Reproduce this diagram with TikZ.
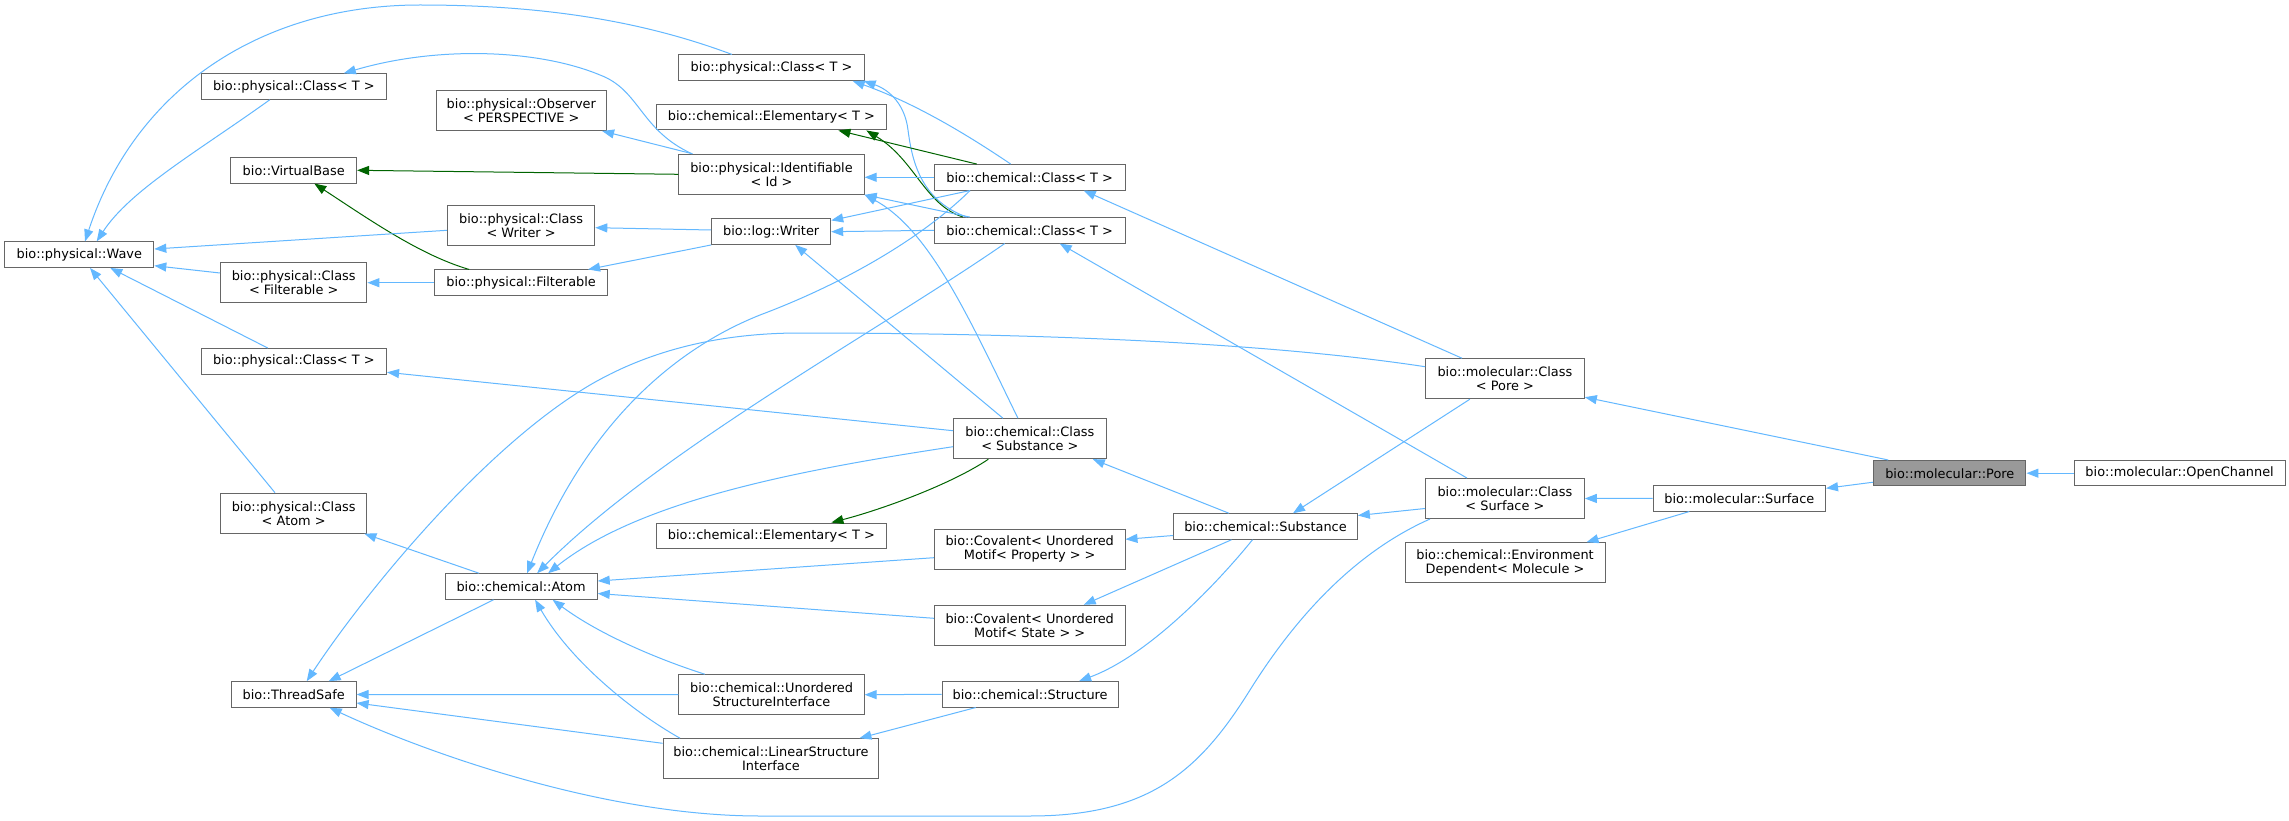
\documentclass[tikz,border=0pt]{standalone}
\usepackage{fontspec}
\setmainfont{DejaVu Sans}
\usetikzlibrary{arrows.meta,calc}
\definecolor{edgeblue}{HTML}{63B8FF}
\definecolor{edgegreen}{HTML}{006400}
\definecolor{nodeborder}{HTML}{666666}
\definecolor{hlfill}{HTML}{999999}
\begin{document}
\begin{tikzpicture}[x=1pt,y=-1pt,
  cls/.style={draw=nodeborder, fill=white, line width=1pt, inner sep=0pt, align=center,
    font=\fontsize{12.9}{14}\selectfont, minimum height=25.5pt},
  two/.style={minimum height=40pt},
  e/.style={draw=edgeblue, line width=1pt, -{Triangle[length=12pt,width=9pt]}},
  g/.style={draw=edgegreen, line width=1pt, -{Triangle[length=12pt,width=9pt]}},
]
\fill[white] (0,0) rectangle (2289,821);
\useasboundingbox (0,0) rectangle (2289,821);

% column 1
\node[cls, minimum width=149pt] (wave) at (79.3,254.7) {bio::physical::Wave};
% column 2
\node[cls, minimum width=185.5pt] (pcTa) at (293.8,86.5) {bio::physical::Class< T >};
\node[cls, minimum width=125.8pt] (vbase) at (293.7,170.3) {bio::VirtualBase};
\node[cls, two, minimum width=146.4pt] (clsFilt) at (293.7,282.7) {bio::physical::Class\\< Filterable >};
\node[cls, minimum width=185.5pt] (pcTc) at (293.8,361.3) {bio::physical::Class< T >};
\node[cls, two, minimum width=146.4pt] (clsAtom) at (293.7,513.2) {bio::physical::Class\\< Atom >};
\node[cls, minimum width=124.8pt] (threadsafe) at (293.7,694.5) {bio::ThreadSafe};
% column 3
\node[cls, two, minimum width=170.6pt] (observer) at (521.3,110.5) {bio::physical::Observer\\< PERSPECTIVE >};
\node[cls, two, minimum width=147.4pt] (clsWriter) at (521.1,225.3) {bio::physical::Class\\< Writer >};
\node[cls, minimum width=172.9pt] (filterable) at (521.1,282.7) {bio::physical::Filterable};
\node[cls, minimum width=152.2pt] (atom) at (521.1,586.5) {bio::chemical::Atom};
% column 4
\node[cls, minimum width=185.3pt] (pcTb) at (771.5,67.7) {bio::physical::Class< T >};
\node[cls, minimum width=230.5pt] (elemA) at (771.4,117.2) {bio::chemical::Elementary< T >};
\node[cls, two, minimum width=185.3pt] (ident) at (771.5,174.3) {bio::physical::Identifiable\\< Id >};
\node[cls, minimum width=119pt] (writer) at (771.2,231.7) {bio::log::Writer};
\node[cls, minimum width=230.5pt] (elemB) at (771.4,535.8) {bio::chemical::Elementary< T >};
\node[cls, two, minimum width=185.3pt] (usi) at (771.5,694.7) {bio::chemical::Unordered\\StructureInterface};
\node[cls, two, minimum width=215.9pt] (lsi) at (771,758.7) {bio::chemical::LinearStructure\\Interface};
% column 5
\node[cls, minimum width=190.6pt] (ccT1) at (1029.7,177.3) {bio::chemical::Class< T >};
\node[cls, minimum width=190.6pt] (ccT2) at (1029.7,230.3) {bio::chemical::Class< T >};
\node[cls, two, minimum width=152.8pt] (ccSub) at (1029.9,438.7) {bio::chemical::Class\\< Substance >};
\node[cls, two, minimum width=190.6pt] (covProp) at (1029.7,549.3) {bio::Covalent< Unordered\\Motif< Property > >};
\node[cls, two, minimum width=190.6pt] (covState) at (1029.7,625.3) {bio::Covalent< Unordered\\Motif< State > >};
\node[cls, minimum width=175.8pt] (structure) at (1030.1,694.3) {bio::chemical::Structure};
% column 6
\node[cls, minimum width=183.7pt] (substance) at (1265.5,526.5) {bio::chemical::Substance};
% column 7
\node[cls, two, minimum width=158.8pt] (molPore) at (1504.9,378.7) {bio::molecular::Class\\< Pore >};
\node[cls, two, minimum width=158.8pt] (molSurf) at (1504.9,498.5) {bio::molecular::Class\\< Surface >};
\node[cls, two, minimum width=200pt] (env) at (1505,562.7) {bio::chemical::Environment\\Dependent< Molecule >};
% columns 8-10
\node[cls, minimum width=172.4pt] (surface) at (1739.3,498.3) {bio::molecular::Surface};
\node[cls, fill=hlfill, minimum width=152.3pt] (pore) at (1949.8,473.2) {bio::molecular::Pore};
\node[cls, minimum width=211.2pt] (opench) at (2179.6,473.2) {bio::molecular::OpenChannel};

% edges
\draw[e] ($(pcTa.south)+(-24,0)$) .. controls (200,150) and (130,190) .. ($(wave.north)+(17.4,0)$);
\draw[e] ($(pcTb.north)+(-39.5,0)$) .. controls (640,20) and (540,5) .. (420,5) .. controls (260,5) and (135,90) .. ($(wave.north)+(5.7,0)$);
\draw[e] ($(ident.north)+(-79.5,0)$) .. controls (640,130) and (640,90) .. (600,75) .. controls (540,50) and (440,45) .. ($(pcTa.north)+(50,0)$);
\draw[e] ($(ident.north)+(-79,0)$) -- ($(observer.south east)+(-5,0)$);
\draw[g] (ident.west) -- (vbase.east);
\draw[g] ($(filterable.north)+(-52,0)$) .. controls (420,255) and (370,220) .. ($(vbase.south)+(20.6,0)$);
\draw[e] ($(clsWriter.west)+(0,5)$) -- ($(wave.east)+(0,-5.7)$);
\draw[e] ($(clsFilt.west)+(0,-9.7)$) -- ($(wave.east)+(0,11)$);
\draw[e] ($(pcTc.north)+(-26,0)$) -- ($(wave.south)+(31,0)$);
\draw[e] ($(clsAtom.north)+(-18.7,0)$) -- ($(wave.south)+(10.7,0)$);
\draw[e] ($(writer.west)+(0,-1.7)$) -- ($(clsWriter.east)+(0,2.4)$);
\draw[e] (writer.south west) -- ($(filterable.north east)+(-20,0)$);
\draw[e] (filterable.west) -- (clsFilt.east);
\draw[e] ($(ccSub.west)+(0,-8)$) -- ($(pcTc.east)+(0,11)$);
\draw[e] ($(ccT1.north)+(-19,0)$) .. controls (975,140) and (920,105) .. ($(pcTb.south east)+(-12,0)$);
\draw[e] ($(ccT2.north)+(-63,0)$) .. controls (920,200) and (912,160) .. (908,130) .. controls (905,105) and (890,90) .. ($(pcTb.south east)+(-1,0)$);
\draw[g] ($(ccT1.north)+(-53,0)$) -- ($(elemA.south)+(67,0)$);
\draw[g] ($(ccT2.north)+(-66.7,0)$) .. controls (925,205) and (915,160) .. ($(elemA.south)+(95,0)$);
\draw[e] (ccT1.west) -- ($(ident.east)+(0,3)$);
\draw[e] ($(ccT2.north)+(-60,0)$) -- (ident.south east);
\draw[e] ($(ccSub.north)+(-12,0)$) .. controls (970,320) and (930,230) .. (ident.south east);
\draw[e] ($(ccT1.south)+(-59.7,0)$) -- ($(writer.north east)+(0,2)$);
\draw[e] (ccT2.west) -- (writer.east);
\draw[e] ($(ccT1.south)+(-59.7,0)$) .. controls (920,240) and (840,285) .. (760,315) .. controls (660,355) and (580,440) .. ($(atom.north)+(6,0)$);
\draw[e] ($(ccT2.south)+(-25,0)$) .. controls (880,330) and (660,450) .. ($(atom.north)+(16,0)$);
\draw[e] ($(ccSub.west)+(0,8)$) .. controls (800,470) and (640,500) .. ($(atom.north)+(27,0)$);
\draw[e] ($(ccSub.north)+(-27,0)$) -- ($(writer.south)+(24,0)$);
\draw[g] ($(ccSub.south)+(-41.5,0)$) .. controls (950,485) and (880,510) .. ($(elemB.north)+(60,0)$);
\draw[e] ($(substance.north)+(-36.5,0)$) -- ($(ccSub.south east)+(-14,0)$);
\draw[e] ($(substance.west)+(0,9)$) -- ($(covProp.east)+(0,-10)$);
\draw[e] ($(substance.south)+(-34,0)$) -- ($(covState.north)+(54,0)$);
\draw[e] ($(substance.south)+(-13,0)$) .. controls (1220,580) and (1150,655) .. ($(structure.north)+(49,0)$);
\draw[e] ($(molSurf.west)+(0,10)$) -- ($(substance.east)+(0,-11)$);
\draw[e] ($(molPore.south)+(-35,0)$) -- ($(substance.north)+(27.5,0)$);
\draw[e] ($(molSurf.north)+(-38,0)$) -- ($(ccT2.south)+(30,0)$);
\draw[e] ($(molPore.north)+(-43,0)$) -- ($(ccT1.south)+(54,0)$);
\draw[e] ($(molPore.west)+(0,-12)$) .. controls (1250,340) and (1000,333) .. (800,333) .. controls (720,333) and (650,350) .. (590,385) .. controls (480,450) and (360,600) .. ($(threadsafe.north)+(13,0)$);
\draw[e] ($(molSurf.south west)+(5,0)$) .. controls (1360,550) and (1300,610) .. (1250,690) .. controls (1200,770) and (1150,816) .. (1030,816) -- (760,816) .. controls (600,816) and (420,750) .. ($(threadsafe.south)+(36,0)$);
\draw[e] ($(surface.south)+(-50,0)$) -- ($(env.north east)+(-19,0)$);
\draw[e] (surface.west) -- (molSurf.east);
\draw[e] ($(pore.west)+(0,9)$) -- ($(surface.east)+(0,-10)$);
\draw[e] ($(pore.north west)+(15,0)$) -- ($(molPore.south east)+(0,-2)$);
\draw[e] (opench.west) -- (pore.east);
\draw[e] ($(atom.north)+(-42,0)$) -- ($(clsAtom.south east)+(-3,0)$);
\draw[e] ($(atom.south)+(-27.5,0)$) -- ($(threadsafe.north)+(35,0)$);
\draw[e] (usi.west) -- (threadsafe.east);
\draw[e] ($(lsi.west)+(0,-15.4)$) -- ($(threadsafe.east)+(0,8.5)$);
\draw[e] ($(usi.north)+(-66.7,0)$) .. controls (660,660) and (600,635) .. ($(atom.south)+(31.5,0)$);
\draw[e] ($(lsi.north)+(-91,0)$) .. controls (630,710) and (570,660) .. ($(atom.south)+(14,0)$);
\draw[e] ($(covProp.west)+(0,8.4)$) -- ($(atom.east)+(0,-5.5)$);
\draw[e] ($(covState.west)+(0,-7)$) -- ($(atom.east)+(0,7)$);
\draw[e] (structure.west) -- (usi.east);
\draw[e] ($(structure.south west)+(34,0)$) -- ($(lsi.north east)+(-20,0)$);
\end{tikzpicture}
\end{document}
